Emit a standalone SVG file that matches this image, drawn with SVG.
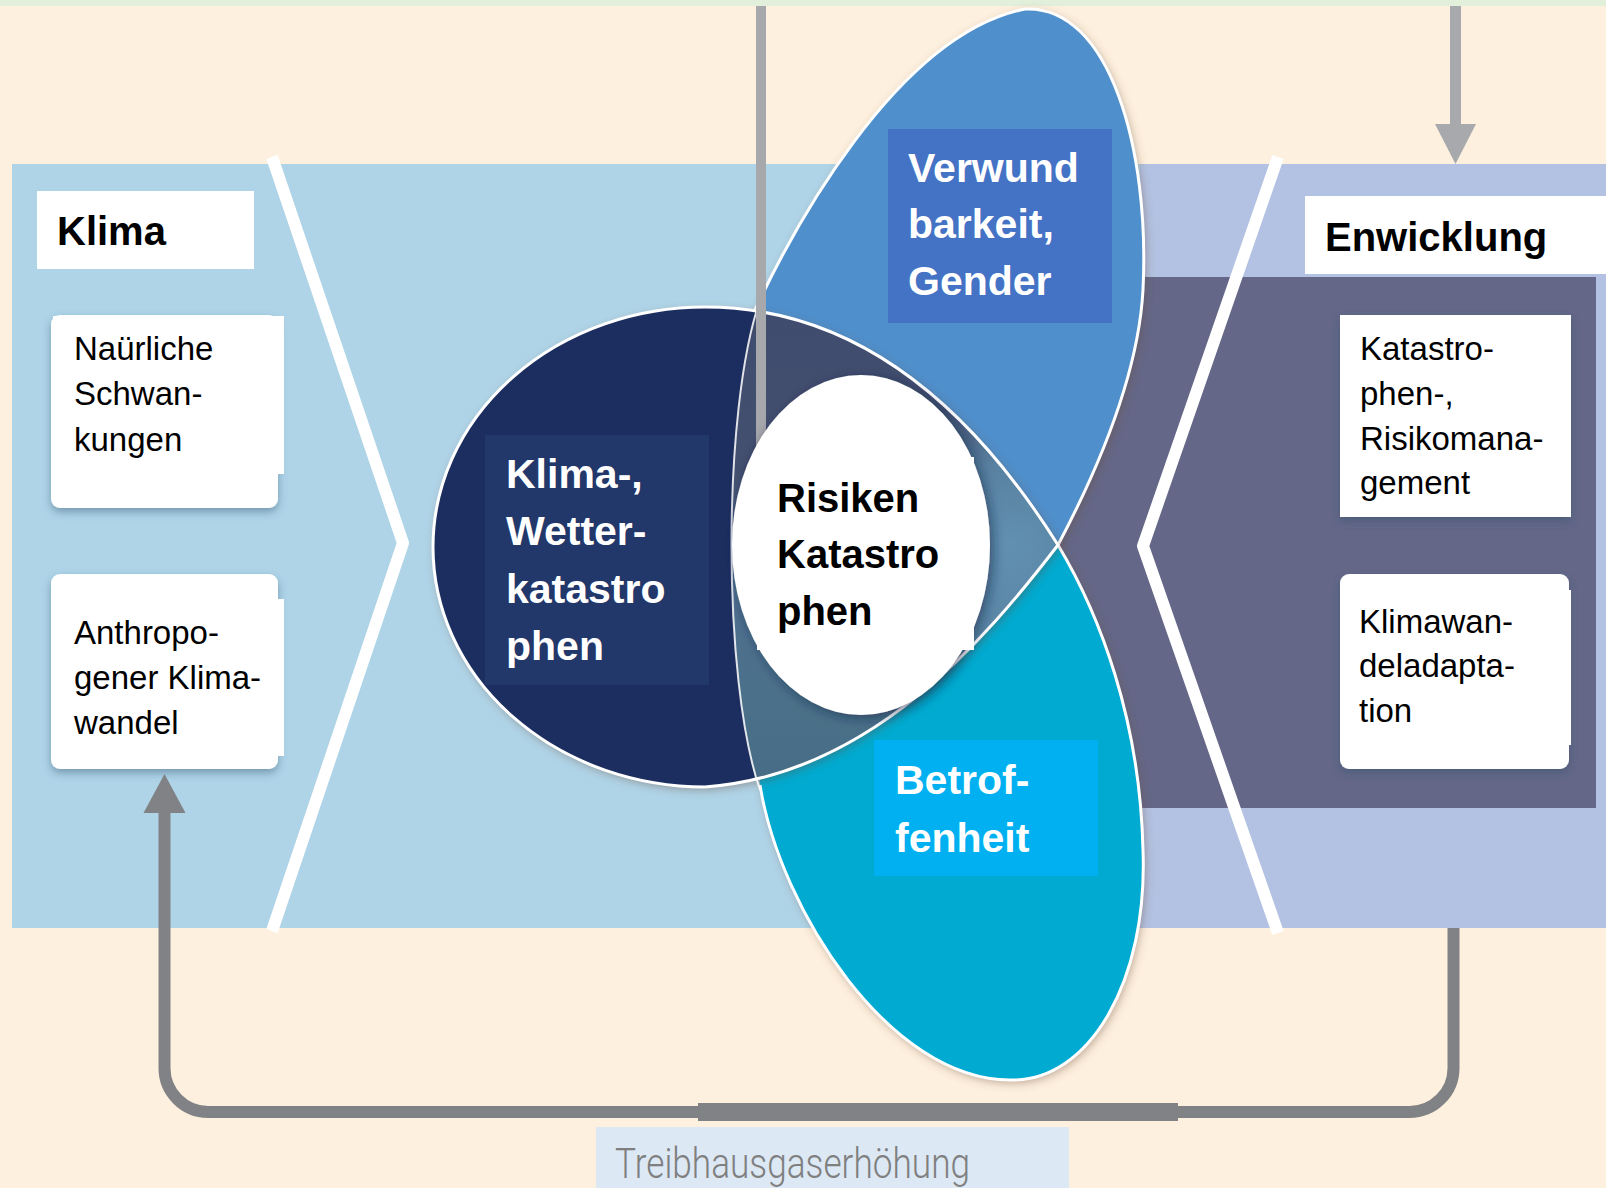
<svg xmlns="http://www.w3.org/2000/svg" width="1606" height="1188" viewBox="0 0 1606 1188">
<defs>
<style>
.title{font-family:"Liberation Sans",Arial,sans-serif;font-weight:bold;font-size:40px;fill:#000}
.boxt{font-family:"Liberation Sans",Arial,sans-serif;font-size:33px;fill:#000}
.wt{font-family:"Liberation Sans",Arial,sans-serif;font-weight:bold;font-size:41px;fill:#fff}
.ct{font-family:"Liberation Sans",Arial,sans-serif;font-weight:bold;font-size:40px;fill:#000}
.gas{font-family:Roboto,"Liberation Sans",sans-serif;font-weight:300;font-size:42px;fill:#7f7f7f}
.card{fill:#fff}
.outline{fill:none;stroke:#fff;stroke-width:3}
.chev{fill:none;stroke:#fff;stroke-width:12;stroke-linejoin:round}
.conn{fill:none;stroke:#808285;stroke-width:12}
</style>
<filter id="shBox" x="-15%" y="-15%" width="130%" height="140%">
<feDropShadow dx="0" dy="4" stdDeviation="4" flood-color="#2f4d6b" flood-opacity="0.45"/>
</filter>
<filter id="shShape" x="-15%" y="-10%" width="130%" height="120%">
<feDropShadow dx="2" dy="3" stdDeviation="5" flood-color="#6b4a3a" flood-opacity="0.45"/>
</filter>
<filter id="shCircle" x="-20%" y="-20%" width="140%" height="140%">
<feDropShadow dx="3" dy="3" stdDeviation="6" flood-color="#16243c" flood-opacity="0.55"/>
</filter>
<clipPath id="navyClip">
<path d="M1058,545 C970,405 855,307 705,307 A272,240 0 0 0 705,787 C870,775 985,640 1058,545 Z"/>
</clipPath>
<linearGradient id="lensV" x1="0" y1="298" x2="0" y2="792" gradientUnits="userSpaceOnUse">
<stop offset="0" stop-color="#404c6e"/>
<stop offset="0.35" stop-color="#44506f"/>
<stop offset="0.6" stop-color="#4f7190"/>
<stop offset="0.85" stop-color="#4a7089"/>
<stop offset="1" stop-color="#476b85"/>
</linearGradient>
<radialGradient id="lensR" cx="1010" cy="545" r="150" gradientUnits="userSpaceOnUse">
<stop offset="0" stop-color="#6190b0" stop-opacity="1"/>
<stop offset="0.55" stop-color="#5e8cac" stop-opacity="0.8"/>
<stop offset="1" stop-color="#5e8cac" stop-opacity="0"/>
</radialGradient>
</defs>

<g id="background">
<rect x="0" y="0" width="1606" height="1188" fill="#fef0de"/>
<rect x="0" y="0" width="1606" height="6" fill="#e2efda"/>
<rect x="12" y="164" width="1130" height="764" fill="#afd4e8"/>
<rect x="1140" y="164" width="466" height="764" fill="#b3c2e2"/>
<rect x="1000" y="277" width="596" height="531" fill="#646787"/>
<polyline class="chev" points="272,157 403,543 272,931"/>
<polyline class="chev" points="1278,157 1143,546 1278,933"/>
</g>

<g id="node-klima">
<rect class="card" x="37" y="191" width="217" height="78"/>
<text class="title" x="57" y="245">Klima</text>
</g>

<g id="node-natuerliche-schwankungen">
<rect class="card" x="51" y="315" width="227" height="193" rx="9" filter="url(#shBox)"/>
<rect class="card" x="53" y="316" width="231" height="158"/>
<text class="boxt" x="74" y="360">Naürliche</text>
<text class="boxt" x="74" y="405">Schwan-</text>
<text class="boxt" x="74" y="451">kungen</text>
</g>

<g id="node-anthropogener-klimawandel">
<rect class="card" x="51" y="574" width="227" height="195" rx="9" filter="url(#shBox)"/>
<rect class="card" x="53" y="599" width="231" height="157"/>
<text class="boxt" x="74" y="644">Anthropo-</text>
<text class="boxt" x="74" y="689">gener Klima-</text>
<text class="boxt" x="74" y="734">wandel</text>
</g>

<g id="node-enwicklung">
<rect class="card" x="1305" y="196" width="301" height="78"/>
<text class="title" x="1325" y="251">Enwicklung</text>
</g>

<g id="node-katastrophenmanagement">
<rect class="card" x="1340" y="315" width="231" height="202" filter="url(#shBox)"/>
<text class="boxt" x="1360" y="360">Katastro-</text>
<text class="boxt" x="1360" y="405">phen-,</text>
<text class="boxt" x="1360" y="450">Risikomana-</text>
<text class="boxt" x="1360" y="494">gement</text>
</g>

<g id="node-klimawandeladaptation">
<rect class="card" x="1340" y="574" width="229" height="195" rx="9" filter="url(#shBox)"/>
<rect class="card" x="1342" y="590" width="229" height="155"/>
<text class="boxt" x="1359" y="633">Klimawan-</text>
<text class="boxt" x="1359" y="677">deladapta-</text>
<text class="boxt" x="1359" y="722">tion</text>
</g>

<g id="node-verwundbarkeit">
<path d="M754,312 C790,235 895,35 1025,9 C1110,5 1150,150 1143,290 C1138,380 1095,475 1058,545 L740,560 Z" fill="#4f8fcb" filter="url(#shShape)"/>
<path class="outline" d="M754,312 C790,235 895,35 1025,9 C1110,5 1150,150 1143,290 C1138,380 1095,475 1058,545"/>
</g>

<g id="node-betroffenheit">
<path d="M1058,545 C1100,615 1140,720 1143,850 C1148,980 1090,1082 1010,1080 C890,1080 780,910 760,785 L740,540 Z" fill="#02aad0" filter="url(#shShape)"/>
<path class="outline" d="M1058,545 C1100,615 1140,720 1143,850 C1148,980 1090,1082 1010,1080 C890,1080 780,910 760,785"/>
</g>

<g id="node-klima-wetterkatastrophen">
<path d="M1058,545 C970,405 855,307 705,307 A272,240 0 0 0 705,787 C870,775 985,640 1058,545 Z" fill="#1b2f5e" filter="url(#shShape)"/>
<g clip-path="url(#navyClip)">
<path d="M760,298 C722,410 722,680 760,792 L1100,792 L1100,298 Z" fill="url(#lensV)"/>
<path d="M760,298 C722,410 722,680 760,792 L1100,792 L1100,298 Z" fill="url(#lensR)"/>
</g>
<path class="outline" d="M1058,545 C970,405 855,307 705,307 A272,240 0 0 0 705,787 C870,775 985,640 1058,545 Z"/>
<path d="M760,300 C722,410 722,680 760,790" fill="none" stroke="#ffffff" stroke-opacity="0.85" stroke-width="2"/>
<rect x="485" y="435" width="224" height="250" fill="#22376a"/>
<text class="wt" x="506" y="488">Klima-,</text>
<text class="wt" x="506" y="545">Wetter-</text>
<text class="wt" x="506" y="603">katastro</text>
<text class="wt" x="506" y="660">phen</text>
</g>

<g id="label-verwundbarkeit">
<rect x="888" y="129" width="224" height="194" fill="#4472c4"/>
<text class="wt" x="908" y="182" font-size="42">Verwund</text>
<text class="wt" x="908" y="238" font-size="42">barkeit,</text>
<text class="wt" x="908" y="295" font-size="42">Gender</text>
</g>

<g id="label-betroffenheit">
<rect x="874" y="740" width="224" height="136" fill="#00b0f0"/>
<text class="wt" x="895" y="794" font-size="42">Betrof-</text>
<text class="wt" x="895" y="852" font-size="42">fenheit</text>
</g>

<g id="connectors">
<rect x="756" y="6" width="10" height="451" fill="#a6a8ab"/>
<rect x="1450" y="6" width="11" height="120" fill="#a7a9ac"/>
<polygon points="1435,124 1476,124 1455.5,164" fill="#a7a9ac"/>
<path class="conn" d="M1453.5,928 L1453.5,1068 A44,44 0 0 1 1409.5,1112 L208,1112 A44,44 0 0 1 164.5,1068 L164.5,810"/>
<rect x="698" y="1103" width="480" height="18" fill="#808285"/>
<polygon points="143.5,813 185.5,813 164.5,774" fill="#808285"/>
</g>

<g id="node-risiken-katastrophen">
<ellipse cx="861" cy="545" rx="129" ry="170" fill="#fff" filter="url(#shCircle)"/>
<rect x="757" y="457" width="217" height="193" fill="#fff"/>
<text class="ct" x="777" y="512">Risiken</text>
<text class="ct" x="777" y="568">Katastro</text>
<text class="ct" x="777" y="625">phen</text>
</g>

<g id="label-treibhausgas">
<rect x="596" y="1127" width="473" height="61" fill="#dce8f4"/>
<text class="gas" x="615" y="1178" textLength="355" lengthAdjust="spacingAndGlyphs">Treibhausgaserhöhung</text>
</g>
</svg>
